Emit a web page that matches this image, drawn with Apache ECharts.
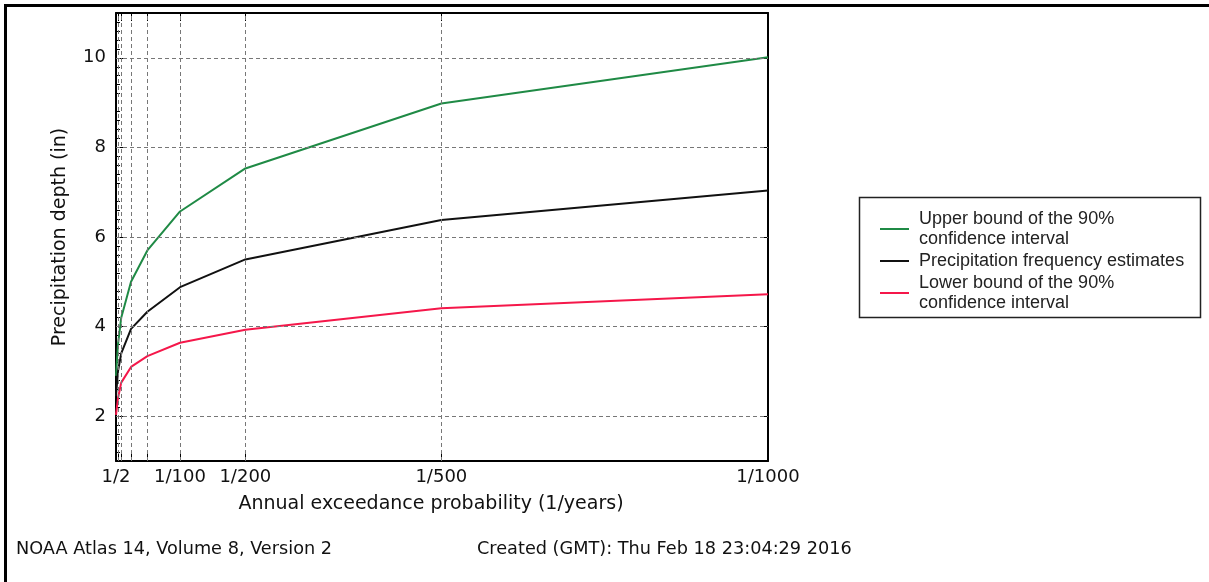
<!DOCTYPE html>
<html>
<head>
<meta charset="utf-8">
<title>Precipitation frequency curves</title>
<script src="https://cdn.jsdelivr.net/npm/echarts@6/dist/echarts.min.js"></script>
<style>
  html, body { margin: 0; padding: 0; background: #fff; }
  #chart { width: 1209px; height: 582px; }
</style>
</head>
<body>
<div id="chart"></div>
<script>
// return periods in years (x axis shows them as 1/years)
const returnPeriods = [2, 5, 10, 25, 50, 100, 200, 500, 1000]
const upperBound = [2.9, 3.6, 4.2, 5.0, 5.7, 6.57, 7.53, 8.98, 10.01]
const estimates = [2.45, 3.0, 3.4, 3.95, 4.33, 4.88, 5.5, 6.38, 7.04]
const lowerBound = [2.03, 2.4, 2.75, 3.1, 3.34, 3.64, 3.93, 4.41, 4.72]

const xLabelValues = [2, 100, 200, 500, 1000]
const xGridValues = [5, 10, 25, 50, 100, 200, 500]
const yTickValues = [2, 4, 6, 8, 10]

const seriesNames = [
  'Upper bound of the 90%\nconfidence interval',
  'Precipitation frequency estimates',
  'Lower bound of the 90%\nconfidence interval'
]
const seriesColors = ['#1f8a45', '#111111', '#f5174a']

const axisFont = 'DejaVu Sans'

const chart = echarts.init(document.getElementById('chart'))

function pairs(values) {
  return returnPeriods.map((p, i) => [p, values[i]])
}

function frameAxis(position, isX, minor) {
  return {
    type: 'value',
    position: position,
    min: isX ? 2 : 1,
    max: isX ? 1000 : 11,
    interval: isX ? undefined : 1,
    axisLine: { show: true, onZero: false, lineStyle: { color: '#000', width: 2 } },
    axisTick: {
      show: true,
      inside: true,
      length: 8,
      customValues: isX ? returnPeriods : yTickValues,
      lineStyle: { color: '#000', width: 1 }
    },
    minorTick: minor ? {
      show: true, splitNumber: 5, length: 4, lineStyle: { color: '#000', width: 1 }
    } : { show: false },
    axisLabel: { show: false },
    splitLine: { show: false }
  }
}

const xBottom = Object.assign(frameAxis('bottom', true, false), {
  axisLabel: {
    show: true,
    customValues: xLabelValues,
    formatter: v => '1/' + v,
    fontSize: 18,
    fontFamily: axisFont,
    color: '#111',
    margin: 7
  },
  name: 'Annual exceedance probability (1/years)',
  nameLocation: 'middle',
  nameGap: 34,
  nameTextStyle: { fontSize: 19, fontFamily: axisFont, color: '#111', padding: [0, 22, 0, 0] }
})

const yLeft = Object.assign(frameAxis('left', false, true), {
  axisLabel: {
    show: true,
    customValues: yTickValues,
    fontSize: 18,
    fontFamily: axisFont,
    color: '#111',
    margin: 10
  },
  name: 'Precipitation depth (in)',
  nameLocation: 'middle',
  nameGap: 46,
  nameTextStyle: { fontSize: 19, fontFamily: axisFont, color: '#111' }
})

const lineSeries = [upperBound, estimates, lowerBound].map((vals, i) => ({
  name: seriesNames[i],
  type: 'line',
  data: pairs(vals),
  showSymbol: false,
  z: 3,
  lineStyle: { color: seriesColors[i], width: 2 },
  itemStyle: { color: seriesColors[i] }
}))

// empty series that only carries the dotted grid lines
const gridSeries = {
  type: 'line',
  data: [],
  z: 1,
  silent: true,
  markLine: {
    silent: true,
    symbol: 'none',
    animation: false,
    label: { show: false },
    lineStyle: { color: '#777', type: [4, 3], width: 1 },
    data: xGridValues.map(v => ({ xAxis: v })).concat(yTickValues.map(v => ({ yAxis: v })))
  }
}

chart.setOption({
  backgroundColor: '#fff',
  animation: false,
  grid: { left: 116, top: 13, width: 652, height: 448 },
  xAxis: [xBottom, frameAxis('top', true, false)],
  yAxis: [yLeft, frameAxis('right', false, false)],
  legend: {
    orient: 'vertical',
    left: 875,
    top: 204,
    itemWidth: 29,
    itemHeight: 2,
    itemGap: 2,
    icon: 'rect',
    data: seriesNames,
    textStyle: {
      fontSize: 18,
      fontFamily: 'Liberation Sans',
      color: '#222',
      lineHeight: 20,
      padding: [0, 0, 0, 5]
    }
  },
  graphic: [
    {
      type: 'polyline',
      shape: { points: [[5.5, 582], [5.5, 5.5], [1209, 5.5]] },
      style: { stroke: '#000', lineWidth: 3, fill: null },
      silent: true
    },
    {
      type: 'rect',
      shape: { x: 859.5, y: 197.5, width: 341, height: 120 },
      style: { stroke: '#222', lineWidth: 1.5, fill: null },
      silent: true
    },
    {
      type: 'text',
      left: 16,
      top: 540,
      style: { text: 'NOAA Atlas 14, Volume 8, Version 2', fontSize: 17.7, fontFamily: axisFont, fill: '#111' }
    },
    {
      type: 'text',
      left: 477,
      top: 540,
      style: { text: 'Created (GMT): Thu Feb 18 23:04:29 2016', fontSize: 17.7, fontFamily: axisFont, fill: '#111' }
    }
  ],
  series: [gridSeries].concat(lineSeries)
})
</script>
</body>
</html>
